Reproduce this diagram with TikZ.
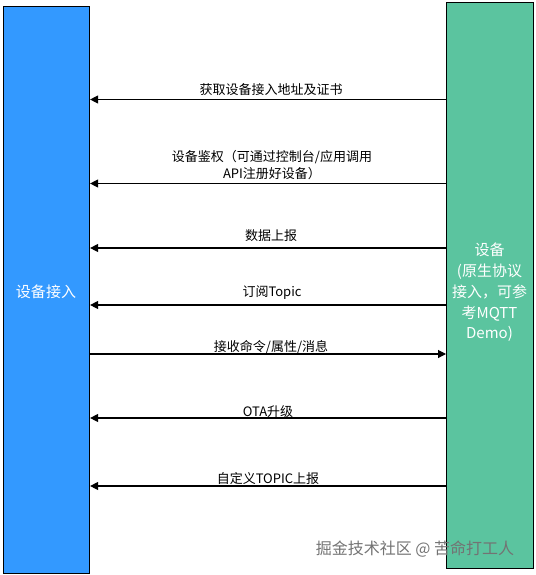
\documentclass[tikz,border=0pt]{standalone}
\usepackage{fontspec}
\setmainfont{Noto Sans CJK SC}
\usetikzlibrary{arrows.meta}
\definecolor{leftblue}{RGB}{51,153,255}
\definecolor{rightgreen}{RGB}{91,196,159}
\tikzset{
  lane/.style={draw=black, line width=1.1pt, inner sep=0pt, anchor=north west},
  lanetext/.style={inner sep=0pt, text=white, align=center, font=\fontsize{15}{20.7}\selectfont},
  msg/.style={line width=1.1pt, -{Triangle[length=8pt,width=8pt]}},
  lbl/.style={inner sep=0pt, align=center, font=\fontsize{13}{17}\selectfont},
}
\begin{document}
\begin{tikzpicture}[x=1pt,y=-1pt]
\useasboundingbox (0,0) rectangle (535,575);
\node[lane, fill=leftblue, minimum width=86pt, minimum height=567pt] (L) at (3,6) {};
\node[lane, fill=rightgreen, minimum width=87pt, minimum height=566pt] (R) at (446,2) {};
\node[lanetext] (Lt) at (46,292) {设备接入};
\node[lanetext] (Rt) at (489.5,292.5) {设备\\(原生协议\\接入，可参\\考MQTT\\Demo)};
% messages
\draw[msg] (R.west |- 0,99.5) -- (L.east |- 0,99.5);
\node[lbl] (t1) at (271,90) {获取设备接入地址及证书};
\draw[msg] (R.west |- 0,183.5) -- (L.east |- 0,183.5);
\node[lbl] (t2) at (272,165.5) {设备鉴权（可通过控制台/应用调用\\API注册好设备）};
\draw[msg] (R.west |- 0,248) -- (L.east |- 0,248);
\node[lbl] (t3) at (271,235.5) {数据上报};
\draw[msg] (R.west |- 0,305) -- (L.east |- 0,305);
\node[lbl] (t4) at (272,293) {订阅Topic};
\draw[msg] (L.east |- 0,354) -- (R.west |- 0,354);
\node[lbl] (t5) at (271,347) {接收命令/属性/消息};
\draw[msg] (R.west |- 0,418) -- (L.east |- 0,418);
\node[lbl] (t6) at (268,412) {OTA升级};
\draw[msg] (R.west |- 0,486) -- (L.east |- 0,486);
\node[lbl] (t7) at (268,479) {自定义TOPIC上报};
% watermark
\node[inner sep=0pt, text=black!55, font=\fontsize{16}{18}\selectfont] (wm) at (415,549) {掘金技术社区 @ 苦命打工人};
\end{tikzpicture}
\end{document}
